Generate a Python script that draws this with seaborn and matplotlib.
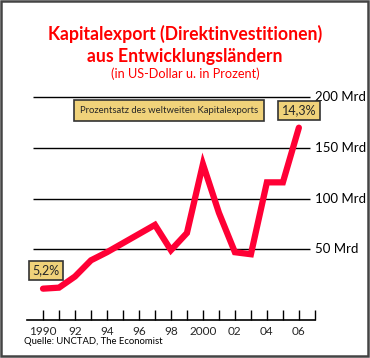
import matplotlib
matplotlib.use("Agg")
import matplotlib.pyplot as plt
import seaborn as sns
import pandas as pd
from matplotlib.patches import Rectangle

# Kapitalexport aus Entwicklungslaendern, Mrd US-Dollar
years = list(range(1990, 2007))
values = [11, 12, 23, 39, 47, 56, 65, 74, 49, 66, 134, 86, 47, 45, 116, 116, 170]
grid_levels = [50, 100, 150, 200]
grid_labels = ["50 Mrd", "100 Mrd", "150 Mrd", "200 Mrd"]
tick_labels = ["1990", "", "92", "", "94", "", "96", "", "98", "", "2000", "", "02", "", "04", "", "06", ""]

df = pd.DataFrame({"Jahr": years, "Mrd": values})

sns.set_style("white")
plt.rcParams["font.family"] = ["Lato", "DejaVu Sans"]

fig = plt.figure(figsize=(3.7, 3.58), dpi=100)
ax = fig.add_axes([0.073, 0.106, 0.778, 0.642])

line_red = "#ff0035"
title_red = "#ff0000"
gold = "#f0d27a"

# horizontal reference lines with labels on the right
for lvl, lab in zip(grid_levels, grid_labels):
    ax.hlines(lvl, 1989.4, 2006.7, color="black", lw=1.0, zorder=1)
    ax.text(1.0, lvl, lab, transform=ax.get_yaxis_transform(), ha="left", va="center",
            fontsize=9.5, color="black")

sns.lineplot(data=df, x="Jahr", y="Mrd", ax=ax, color=line_red, lw=4.5, zorder=3,
             solid_joinstyle="miter")

ax.set_xlim(1989, 2007)
ax.set_ylim(-20, 207)
ax.set_xlabel("")
ax.set_ylabel("")
ax.set_yticks([])
ax.set_xticks(range(1990, 2008))
ax.set_xticklabels(tick_labels, fontsize=8.5)
ax.tick_params(axis="x", direction="in", length=7, width=1, color="black", pad=4,
               bottom=True)
for s in ["top", "left", "right"]:
    ax.spines[s].set_visible(False)
ax.spines["bottom"].set_color("black")
ax.spines["bottom"].set_linewidth(1.2)

# label boxes
bbox = dict(boxstyle="square,pad=0.3", fc=gold, ec="#333333", lw=1.2)
ax.text(1992.3, 187, "Prozentsatz des weltweiten Kapitalexports", fontsize=6.8,
        ha="left", va="center", bbox=dict(boxstyle="square,pad=0.6", fc=gold, ec="#333333", lw=1.2))
ax.text(2006.0, 187, "14,3%", fontsize=9, ha="center", va="center", bbox=bbox)
ax.text(1989.35, 29, "5,2%", fontsize=9, ha="left", va="center", bbox=bbox)

# titles
fig.text(0.5, 0.905, "Kapitalexport (Direktinvestitionen)", ha="center", va="center",
         color=title_red, fontsize=12.7, fontweight="bold")
fig.text(0.5, 0.843, "aus Entwicklungsländern", ha="center", va="center",
         color=title_red, fontsize=12.7, fontweight="bold")
fig.text(0.5, 0.795, "(in US-Dollar u. in Prozent)", ha="center", va="center",
         color=title_red, fontsize=9.2)
fig.text(0.065, 0.045, "Quelle: UNCTAD, The Economist", ha="left", va="center",
         color="black", fontsize=6.8)

# outer frame
fig.patches.append(Rectangle((0.004, 0.006), 0.99, 0.99, transform=fig.transFigure,
                             fill=False, ec="#444444", lw=1.8))

fig.savefig("out.png", dpi=100)
